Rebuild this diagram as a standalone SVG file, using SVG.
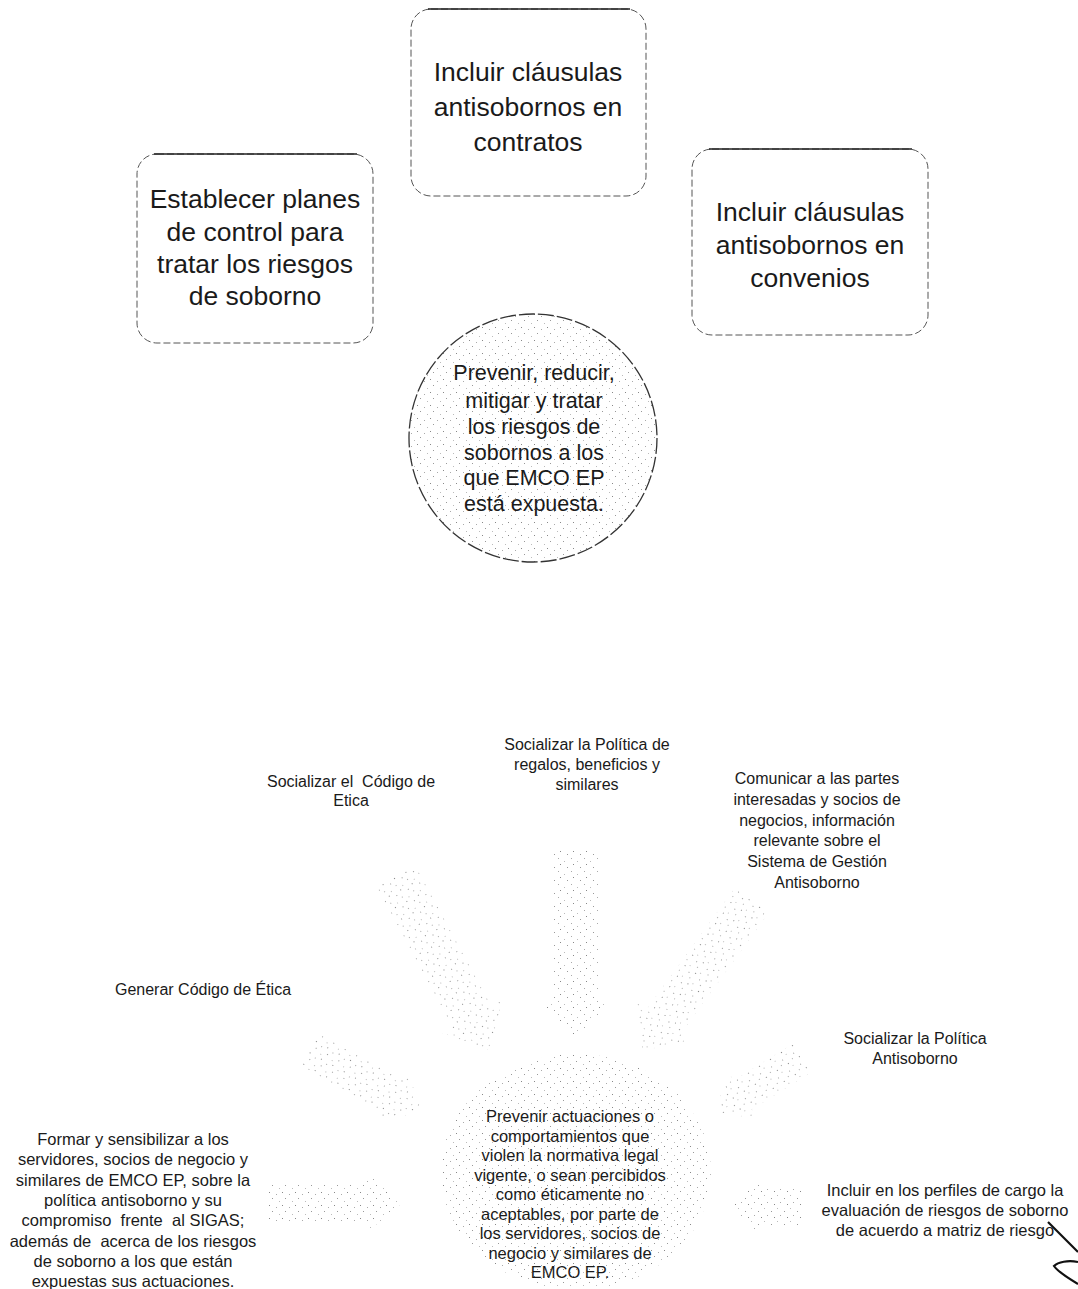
<svg xmlns="http://www.w3.org/2000/svg" width="1078" height="1289" viewBox="0 0 1078 1289">
<style>
.t{font-family:"Liberation Sans",Arial,sans-serif;fill:#1a1a1a;text-anchor:middle}
.big{font-size:26.5px}
.mid{font-size:21.5px}
.lab{font-size:16px}
.sm{font-size:16.5px}
.box{fill:#fff;stroke:#555;stroke-width:1;stroke-dasharray:7 3}
.edge{fill:none;stroke:#222;stroke-width:1.5}
.dot{fill:url(#dots)}
</style>
<defs>
<pattern id="dots" width="13" height="13" patternUnits="userSpaceOnUse">
<rect x="1" y="2" width="1" height="1" fill="#888"/>
<rect x="8" y="4" width="1" height="1" fill="#aaa"/>
<rect x="4" y="8" width="1" height="1" fill="#999"/>
<rect x="11" y="11" width="1" height="1" fill="#bbb"/>
</pattern>
</defs>
<rect width="1078" height="1289" fill="#fff"/>

<g id="node-contratos">
<rect class="box" x="411" y="9" width="235" height="187" rx="20"/>
<path class="edge" d="M428,9 H630"/>
<text class="t big" x="528" y="81">Incluir cláusulas</text>
<text class="t big" x="528" y="116">antisobornos en</text>
<text class="t big" x="528" y="151">contratos</text>
</g>
<g id="node-planes">
<rect class="box" x="137" y="154" width="236" height="189" rx="20"/>
<path class="edge" d="M154,154 H357"/>
<text class="t big" x="255" y="208">Establecer planes</text>
<text class="t big" x="255" y="241">de control para</text>
<text class="t big" x="255" y="273">tratar los riesgos</text>
<text class="t big" x="255" y="305">de soborno</text>
</g>
<g id="node-convenios">
<rect class="box" x="692" y="149" width="236" height="186" rx="20"/>
<path class="edge" d="M709,149 H912"/>
<text class="t big" x="810" y="221">Incluir cláusulas</text>
<text class="t big" x="810" y="254">antisobornos en</text>
<text class="t big" x="810" y="287">convenios</text>
</g>
<g id="node-objetivo1">
<circle cx="533" cy="438" r="124" fill="#fff"/>
<circle class="dot" cx="533" cy="438" r="124" stroke="#333" stroke-width="1.3" stroke-dasharray="16 3"/>
<text class="t mid" x="534" y="380">Prevenir, reducir,</text>
<text class="t mid" x="534" y="408">mitigar y tratar</text>
<text class="t mid" x="534" y="434">los riesgos de</text>
<text class="t mid" x="534" y="460">sobornos a los</text>
<text class="t mid" x="534" y="485">que EMCO EP</text>
<text class="t mid" x="534" y="511">está expuesta.</text>
</g>

<g id="connectors" class="dot">
<polygon transform="translate(396,876) rotate(61.6)" points="0,-22 160,-22 160,-34 198,0 160,34 160,22 0,22"/>
<polygon transform="translate(576,850) rotate(90)" points="0,-22 152,-22 152,-36 190,0 152,36 152,22 0,22"/>
<polygon transform="translate(752,900) rotate(126)" points="0,-21 150,-21 150,-33 186,0 150,33 150,21 0,21"/>
<polygon transform="translate(310,1050) rotate(29)" points="0,-19 94,-19 94,-30 128,0 94,30 94,19 0,19"/>
<polygon transform="translate(268,1203)" points="0,-19 98,-19 98,-30 134,0 98,30 98,19 0,19"/>
<polygon transform="translate(802,1058) rotate(148)" points="0,-17 70,-17 70,-28 102,0 70,28 70,17 0,17"/>
<polygon transform="translate(802,1207) rotate(180)" points="0,-20 42,-20 42,-28 70,0 42,28 42,20 0,20"/>
</g>

<g id="node-objetivo2">
<ellipse class="dot" cx="576" cy="1172" rx="135" ry="118"/>
<text class="t sm" x="570" y="1122">Prevenir actuaciones o</text>
<text class="t sm" x="570" y="1141.5">comportamientos que</text>
<text class="t sm" x="570" y="1161">violen la normativa legal</text>
<text class="t sm" x="570" y="1180.5">vigente, o sean percibidos</text>
<text class="t sm" x="570" y="1200">como éticamente no</text>
<text class="t sm" x="570" y="1219.5">aceptables, por parte de</text>
<text class="t sm" x="570" y="1239">los servidores, socios de</text>
<text class="t sm" x="570" y="1258.5">negocio y similares de</text>
<text class="t sm" x="570" y="1278">EMCO EP.</text>
</g>

<g id="node-codigo-etica">
<text class="t lab" x="351" y="787" xml:space="preserve">Socializar el  Código de</text>
<text class="t lab" x="351" y="806">Etica</text>
</g>
<g id="node-regalos">
<text class="t lab" x="587" y="750">Socializar la Política de</text>
<text class="t lab" x="587" y="770">regalos, beneficios y</text>
<text class="t lab" x="587" y="790">similares</text>
</g>
<g id="node-comunicar">
<text class="t lab" x="817" y="784">Comunicar a las partes</text>
<text class="t lab" x="817" y="804.8">interesadas y socios de</text>
<text class="t lab" x="817" y="825.6">negocios, información</text>
<text class="t lab" x="817" y="846.4">relevante sobre el</text>
<text class="t lab" x="817" y="867.2">Sistema de Gestión</text>
<text class="t lab" x="817" y="888">Antisoborno</text>
</g>
<g id="node-generar">
<text class="t lab" x="203" y="995">Generar Código de Ética</text>
</g>
<g id="node-politica">
<text class="t lab" x="915" y="1044">Socializar la Política</text>
<text class="t lab" x="915" y="1064">Antisoborno</text>
</g>
<g id="node-formar">
<text class="t sm" x="133" y="1145">Formar y sensibilizar a los</text>
<text class="t sm" x="133" y="1165.3">servidores, socios de negocio y</text>
<text class="t sm" x="133" y="1185.6">similares de EMCO EP, sobre la</text>
<text class="t sm" x="133" y="1205.9">política antisoborno y su</text>
<text class="t sm" x="133" y="1226.2" xml:space="preserve">compromiso  frente  al SIGAS;</text>
<text class="t sm" x="133" y="1246.5" xml:space="preserve">además de  acerca de los riesgos</text>
<text class="t sm" x="133" y="1266.8">de soborno a los que están</text>
<text class="t sm" x="133" y="1287">expuestas sus actuaciones.</text>
</g>
<g id="node-perfiles">
<text class="t sm" x="945" y="1196">Incluir en los perfiles de cargo la</text>
<text class="t sm" x="945" y="1216">evaluación de riesgos de soborno</text>
<text class="t sm" x="945" y="1236">de acuerdo a matriz de riesgo</text>
</g>
<path d="M1048,1222 L1078,1252 M1078,1262 C1068,1260 1058,1262 1054,1266 C1058,1272 1068,1278 1078,1284" fill="none" stroke="#111" stroke-width="2.2"/>
</svg>
